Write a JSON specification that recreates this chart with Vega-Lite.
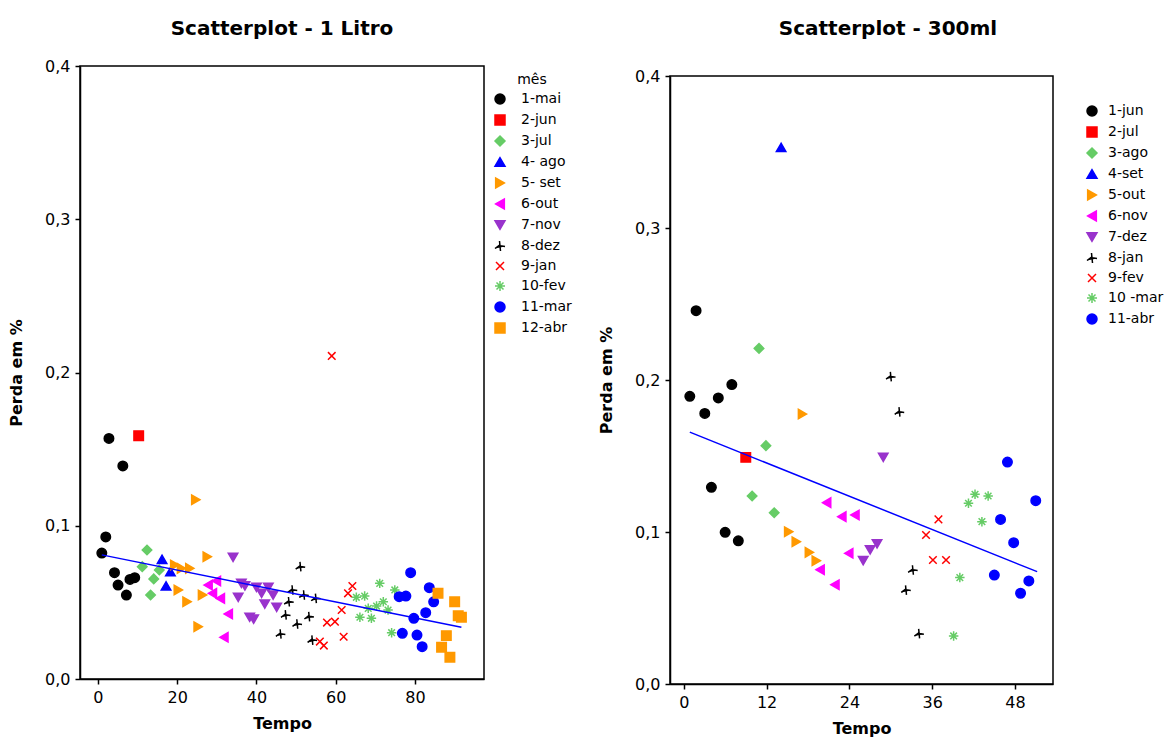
{
  "$schema": "https://vega.github.io/schema/vega-lite/v6.json",
  "padding": {"top": 18, "left": 7, "right": 0, "bottom": 5},
  "config": {
    "font": "DejaVu Sans",
    "view": {"stroke": "#000", "strokeWidth": 1.5},
    "axis": {"grid": false, "domainColor": "#000", "tickColor": "#000", "labelColor": "#000", "titleColor": "#000", "labelFontSize": 16, "titleFontSize": 16, "titleFontWeight": "bold", "tickSize": 5, "domainWidth": 1.5, "tickWidth": 1.5, "labelPadding": 5, "labelFont": "DejaVu Sans", "titleFont": "DejaVu Sans"},
    "axisY": {"titlePadding": 20},
    "axisX": {"titlePadding": 10},
    "legend": {"labelFontSize": 14, "titleFontSize": 14, "titleFontWeight": "normal", "rowPadding": 5, "symbolStrokeWidth": 1.5, "labelColor": "#000", "titleColor": "#000", "offset": 2, "padding": 7, "labelOffset": 14, "labelFont": "DejaVu Sans", "titleFont": "DejaVu Sans"},
    "title": {"fontSize": 20, "fontWeight": "bold", "color": "#000", "font": "DejaVu Sans"}
  },
  "datasets": {
    "litro": [
      {"t": 1.0, "p": 0.0822, "mes": "1-mai"}, {"t": 2.0, "p": 0.0927, "mes": "1-mai"}, {"t": 2.8, "p": 0.157, "mes": "1-mai"}, {"t": 6.3, "p": 0.139, "mes": "1-mai"}, {"t": 4.2, "p": 0.0694, "mes": "1-mai"}, {"t": 5.1, "p": 0.0613, "mes": "1-mai"}, {"t": 7.2, "p": 0.0548, "mes": "1-mai"}, {"t": 8.1, "p": 0.065, "mes": "1-mai"}, {"t": 9.3, "p": 0.0661, "mes": "1-mai"},
      {"t": 10.3, "p": 0.1588, "mes": "2-jun"},
      {"t": 12.4, "p": 0.0842, "mes": "3-jul"}, {"t": 11.2, "p": 0.0733, "mes": "3-jul"}, {"t": 15.5, "p": 0.0711, "mes": "3-jul"}, {"t": 14.1, "p": 0.0653, "mes": "3-jul"}, {"t": 13.3, "p": 0.0548, "mes": "3-jul"},
      {"t": 16.2, "p": 0.0781, "mes": "4- ago"}, {"t": 18.3, "p": 0.070, "mes": "4- ago"}, {"t": 17.2, "p": 0.0607, "mes": "4- ago"},
      {"t": 24.7, "p": 0.117, "mes": "5- set"}, {"t": 27.6, "p": 0.0798, "mes": "5- set"}, {"t": 19.4, "p": 0.0744, "mes": "5- set"}, {"t": 21.1, "p": 0.0722, "mes": "5- set"}, {"t": 23.2, "p": 0.0722, "mes": "5- set"}, {"t": 20.3, "p": 0.0581, "mes": "5- set"}, {"t": 22.5, "p": 0.0504, "mes": "5- set"}, {"t": 26.4, "p": 0.0548, "mes": "5- set"}, {"t": 25.3, "p": 0.0341, "mes": "5- set"},
      {"t": 29.9, "p": 0.064, "mes": "6-out"}, {"t": 27.8, "p": 0.0613, "mes": "6-out"}, {"t": 28.9, "p": 0.0559, "mes": "6-out"}, {"t": 30.9, "p": 0.0526, "mes": "6-out"}, {"t": 32.9, "p": 0.0424, "mes": "6-out"}, {"t": 31.8, "p": 0.0272, "mes": "6-out"},
      {"t": 34.1, "p": 0.0794, "mes": "7-nov"}, {"t": 36.2, "p": 0.0624, "mes": "7-nov"}, {"t": 37.1, "p": 0.0607, "mes": "7-nov"}, {"t": 40.0, "p": 0.0598, "mes": "7-nov"}, {"t": 43.0, "p": 0.0598, "mes": "7-nov"}, {"t": 41.3, "p": 0.0559, "mes": "7-nov"}, {"t": 44.2, "p": 0.0548, "mes": "7-nov"}, {"t": 35.4, "p": 0.0533, "mes": "7-nov"}, {"t": 42.1, "p": 0.0489, "mes": "7-nov"}, {"t": 45.1, "p": 0.0468, "mes": "7-nov"}, {"t": 38.3, "p": 0.0403, "mes": "7-nov"}, {"t": 39.3, "p": 0.039, "mes": "7-nov"},
      {"t": 51.1, "p": 0.0733, "mes": "8-dez"}, {"t": 49.1, "p": 0.0581, "mes": "8-dez"}, {"t": 52.0, "p": 0.0548, "mes": "8-dez"}, {"t": 55.0, "p": 0.0526, "mes": "8-dez"}, {"t": 48.2, "p": 0.0504, "mes": "8-dez"}, {"t": 47.4, "p": 0.0418, "mes": "8-dez"}, {"t": 53.3, "p": 0.0407, "mes": "8-dez"}, {"t": 50.3, "p": 0.0359, "mes": "8-dez"}, {"t": 46.1, "p": 0.0294, "mes": "8-dez"}, {"t": 54.1, "p": 0.0254, "mes": "8-dez"},
      {"t": 59.0, "p": 0.2108, "mes": "9-jan"}, {"t": 64.2, "p": 0.0607, "mes": "9-jan"}, {"t": 63.1, "p": 0.0559, "mes": "9-jan"}, {"t": 61.5, "p": 0.045, "mes": "9-jan"}, {"t": 57.8, "p": 0.0368, "mes": "9-jan"}, {"t": 59.8, "p": 0.0374, "mes": "9-jan"}, {"t": 62.0, "p": 0.0276, "mes": "9-jan"}, {"t": 56.0, "p": 0.0244, "mes": "9-jan"}, {"t": 57.0, "p": 0.0218, "mes": "9-jan"},
      {"t": 71.1, "p": 0.0624, "mes": "10-fev"}, {"t": 74.9, "p": 0.0581, "mes": "10-fev"}, {"t": 65.2, "p": 0.0533, "mes": "10-fev"}, {"t": 67.3, "p": 0.0541, "mes": "10-fev"}, {"t": 68.2, "p": 0.0461, "mes": "10-fev"}, {"t": 70.3, "p": 0.0476, "mes": "10-fev"}, {"t": 72.0, "p": 0.0504, "mes": "10-fev"}, {"t": 73.2, "p": 0.045, "mes": "10-fev"}, {"t": 66.1, "p": 0.0403, "mes": "10-fev"}, {"t": 69.0, "p": 0.0396, "mes": "10-fev"}, {"t": 74.1, "p": 0.0302, "mes": "10-fev"},
      {"t": 78.9, "p": 0.0694, "mes": "11-mar"}, {"t": 83.6, "p": 0.0596, "mes": "11-mar"}, {"t": 76.0, "p": 0.0537, "mes": "11-mar"}, {"t": 77.7, "p": 0.0541, "mes": "11-mar"}, {"t": 84.7, "p": 0.0504, "mes": "11-mar"}, {"t": 82.7, "p": 0.0433, "mes": "11-mar"}, {"t": 79.7, "p": 0.0396, "mes": "11-mar"}, {"t": 76.8, "p": 0.0298, "mes": "11-mar"}, {"t": 80.5, "p": 0.0287, "mes": "11-mar"}, {"t": 81.8, "p": 0.0211, "mes": "11-mar"},
      {"t": 85.8, "p": 0.0559, "mes": "12-abr"}, {"t": 90.0, "p": 0.0504, "mes": "12-abr"}, {"t": 90.9, "p": 0.0413, "mes": "12-abr"}, {"t": 91.7, "p": 0.0403, "mes": "12-abr"}, {"t": 87.9, "p": 0.0283, "mes": "12-abr"}, {"t": 86.7, "p": 0.0207, "mes": "12-abr"}, {"t": 88.8, "p": 0.0142, "mes": "12-abr"}
    ],
    "ml": [
      {"t": 1.78, "p": 0.2456, "mes": "1-jun"}, {"t": 0.87, "p": 0.1893, "mes": "1-jun"}, {"t": 5.0, "p": 0.1882, "mes": "1-jun"}, {"t": 6.96, "p": 0.197, "mes": "1-jun"}, {"t": 3.04, "p": 0.178, "mes": "1-jun"}, {"t": 4.0, "p": 0.1294, "mes": "1-jun"}, {"t": 5.99, "p": 0.0998, "mes": "1-jun"}, {"t": 7.9, "p": 0.0942, "mes": "1-jun"},
      {"t": 8.98, "p": 0.1491, "mes": "2-jul"},
      {"t": 10.9, "p": 0.2208, "mes": "3-ago"}, {"t": 11.9, "p": 0.1568, "mes": "3-ago"}, {"t": 9.9, "p": 0.1237, "mes": "3-ago"}, {"t": 13.1, "p": 0.1127, "mes": "3-ago"},
      {"t": 14.1, "p": 0.353, "mes": "4-set"},
      {"t": 17.2, "p": 0.1776, "mes": "5-out"}, {"t": 15.2, "p": 0.1002, "mes": "5-out"}, {"t": 16.3, "p": 0.0936, "mes": "5-out"}, {"t": 18.2, "p": 0.0866, "mes": "5-out"}, {"t": 19.2, "p": 0.0811, "mes": "5-out"},
      {"t": 20.7, "p": 0.1193, "mes": "6-nov"}, {"t": 22.9, "p": 0.1101, "mes": "6-nov"}, {"t": 24.8, "p": 0.1112, "mes": "6-nov"}, {"t": 23.9, "p": 0.086, "mes": "6-nov"}, {"t": 19.75, "p": 0.0752, "mes": "6-nov"}, {"t": 21.9, "p": 0.0653, "mes": "6-nov"},
      {"t": 28.9, "p": 0.1491, "mes": "7-dez"}, {"t": 28.0, "p": 0.0922, "mes": "7-dez"}, {"t": 27.0, "p": 0.0883, "mes": "7-dez"}, {"t": 26.0, "p": 0.0811, "mes": "7-dez"},
      {"t": 30.0, "p": 0.2022, "mes": "8-jan"}, {"t": 31.25, "p": 0.179, "mes": "8-jan"}, {"t": 33.2, "p": 0.075, "mes": "8-jan"}, {"t": 32.2, "p": 0.0618, "mes": "8-jan"}, {"t": 34.1, "p": 0.0331, "mes": "8-jan"},
      {"t": 36.9, "p": 0.1083, "mes": "9-fev"}, {"t": 35.1, "p": 0.098, "mes": "9-fev"}, {"t": 36.1, "p": 0.0816, "mes": "9-fev"}, {"t": 38.0, "p": 0.0816, "mes": "9-fev"},
      {"t": 42.2, "p": 0.1248, "mes": "10 -mar"}, {"t": 41.25, "p": 0.1189, "mes": "10 -mar"}, {"t": 44.1, "p": 0.1237, "mes": "10 -mar"}, {"t": 43.2, "p": 0.1068, "mes": "10 -mar"}, {"t": 40.0, "p": 0.070, "mes": "10 -mar"}, {"t": 39.1, "p": 0.0316, "mes": "10 -mar"},
      {"t": 46.9, "p": 0.146, "mes": "11-abr"}, {"t": 51.0, "p": 0.1206, "mes": "11-abr"}, {"t": 45.9, "p": 0.1083, "mes": "11-abr"}, {"t": 47.8, "p": 0.093, "mes": "11-abr"}, {"t": 45.0, "p": 0.0717, "mes": "11-abr"}, {"t": 50.0, "p": 0.0678, "mes": "11-abr"}, {"t": 48.8, "p": 0.0597, "mes": "11-abr"}
    ],
    "fitL": [{"t": 1.0, "p": 0.081}, {"t": 91.7, "p": 0.0337}],
    "fitM": [{"t": 0.87, "p": 0.1657}, {"t": 51.2, "p": 0.0739}],
    "spacer": [{"t": 0}]
  },
  "hconcat": [
    {
      "title": {"text": "Scatterplot - 1 Litro", "offset": 19},
      "width": 404,
      "height": 613,
      "layer": [
        {
          "data": {"name": "litro"},
          "mark": {"type": "point", "filled": true, "size": 90, "strokeWidth": 1.5, "opacity": 1},
          "encoding": {
            "x": {"field": "t", "type": "quantitative", "scale": {"domain": [-4.5, 97.4], "nice": false, "zero": false}, "axis": {"values": [0, 20, 40, 60, 80], "title": "Tempo"}},
            "y": {"field": "p", "type": "quantitative", "scale": {"domain": [0, 0.4], "nice": false}, "axis": {"values": [0, 0.1, 0.2, 0.3, 0.4], "title": "Perda em %", "labelExpr": "replace(format(datum.value, '.1f'), '.', ',')"}},
            "color": {"field": "mes", "type": "nominal", "title": "mês", "legend": {"titleAnchor": "middle"},
              "scale": {"domain": ["1-mai", "2-jun", "3-jul", "4- ago", "5- set", "6-out", "7-nov", "8-dez", "9-jan", "10-fev", "11-mar", "12-abr"],
                        "range": ["#000000", "#ff0000", "#66cc66", "#0000ff", "#ff9900", "#ff00ff", "#9933cc", "#000000", "#ff0000", "#66cc66", "#0000ff", "#ff9900"]}},
            "stroke": {"field": "mes", "type": "nominal", "title": "mês",
              "scale": {"domain": ["1-mai", "2-jun", "3-jul", "4- ago", "5- set", "6-out", "7-nov", "8-dez", "9-jan", "10-fev", "11-mar", "12-abr"],
                        "range": ["#000000", "#ff0000", "#66cc66", "#0000ff", "#ff9900", "#ff00ff", "#9933cc", "#000000", "#ff0000", "#66cc66", "#0000ff", "#ff9900"]}},
            "shape": {"field": "mes", "type": "nominal", "title": "mês",
              "scale": {"domain": ["1-mai", "2-jun", "3-jul", "4- ago", "5- set", "6-out", "7-nov", "8-dez", "9-jan", "10-fev", "11-mar", "12-abr"],
                        "range": ["circle", "square", "diamond", "triangle-up", "triangle-right", "triangle-left", "triangle-down", "M-1,0.5L-0.2,-0.1L1,0.1M-0.1,-1L0.1,1", "M-0.8,-0.8L0.8,0.8M-0.8,0.8L0.8,-0.8", "M-1,0L1,0M0,-1L0,1M-0.7,-0.7L0.7,0.7M-0.7,0.7L0.7,-0.7", "circle", "square"]}}
          }
        },
        {
          "data": {"name": "fitL"},
          "mark": {"type": "line", "color": "#0000ff", "strokeWidth": 1.5},
          "encoding": {
            "x": {"field": "t", "type": "quantitative"},
            "y": {"field": "p", "type": "quantitative"}
          }
        }
      ]
    },
    {
      "title": {"text": "Scatterplot - 300ml", "offset": 27, "anchor": "middle", "frame": "group", "dx": 218},
      "spacing": 0,
      "vconcat": [
        {
          "data": {"name": "spacer"},
          "width": 383,
          "height": 1,
          "view": {"stroke": null},
          "mark": {"type": "point", "opacity": 0, "size": 1},
          "encoding": {}
        },
        {
          "width": 383,
          "height": 608,
          "layer": [
            {
              "data": {"name": "ml"},
              "mark": {"type": "point", "filled": true, "size": 90, "strokeWidth": 1.5, "opacity": 1},
              "encoding": {
                "x": {"field": "t", "type": "quantitative", "scale": {"domain": [-2, 53.5], "nice": false, "zero": false}, "axis": {"values": [0, 12, 24, 36, 48], "title": "Tempo"}},
                "y": {"field": "p", "type": "quantitative", "scale": {"domain": [0, 0.4], "nice": false}, "axis": {"values": [0, 0.1, 0.2, 0.3, 0.4], "title": "Perda em %", "labelExpr": "replace(format(datum.value, '.1f'), '.', ',')"}},
                "color": {"field": "mes", "type": "nominal", "title": " ", "legend": {"offset": 24, "titlePadding": 17, "labelOffset": 9},
                  "scale": {"domain": ["1-jun", "2-jul", "3-ago", "4-set", "5-out", "6-nov", "7-dez", "8-jan", "9-fev", "10 -mar", "11-abr"],
                            "range": ["#000000", "#ff0000", "#66cc66", "#0000ff", "#ff9900", "#ff00ff", "#9933cc", "#000000", "#ff0000", "#66cc66", "#0000ff"]}},
                "stroke": {"field": "mes", "type": "nominal", "title": " ",
                  "scale": {"domain": ["1-jun", "2-jul", "3-ago", "4-set", "5-out", "6-nov", "7-dez", "8-jan", "9-fev", "10 -mar", "11-abr"],
                            "range": ["#000000", "#ff0000", "#66cc66", "#0000ff", "#ff9900", "#ff00ff", "#9933cc", "#000000", "#ff0000", "#66cc66", "#0000ff"]}},
                "shape": {"field": "mes", "type": "nominal", "title": " ",
                  "scale": {"domain": ["1-jun", "2-jul", "3-ago", "4-set", "5-out", "6-nov", "7-dez", "8-jan", "9-fev", "10 -mar", "11-abr"],
                            "range": ["circle", "square", "diamond", "triangle-up", "triangle-right", "triangle-left", "triangle-down", "M-1,0.5L-0.2,-0.1L1,0.1M-0.1,-1L0.1,1", "M-0.8,-0.8L0.8,0.8M-0.8,0.8L0.8,-0.8", "M-1,0L1,0M0,-1L0,1M-0.7,-0.7L0.7,0.7M-0.7,0.7L0.7,-0.7", "circle"]}}
              }
            },
            {
              "data": {"name": "fitM"},
              "mark": {"type": "line", "color": "#0000ff", "strokeWidth": 1.5},
              "encoding": {
                "x": {"field": "t", "type": "quantitative"},
                "y": {"field": "p", "type": "quantitative"}
              }
            }
          ]
        }
      ]
    }
  ],
  "spacing": 17,
  "resolve": {"scale": {"color": "independent", "stroke": "independent", "shape": "independent", "x": "independent", "y": "independent"}, "legend": {"color": "independent", "stroke": "independent", "shape": "independent"}}
}
